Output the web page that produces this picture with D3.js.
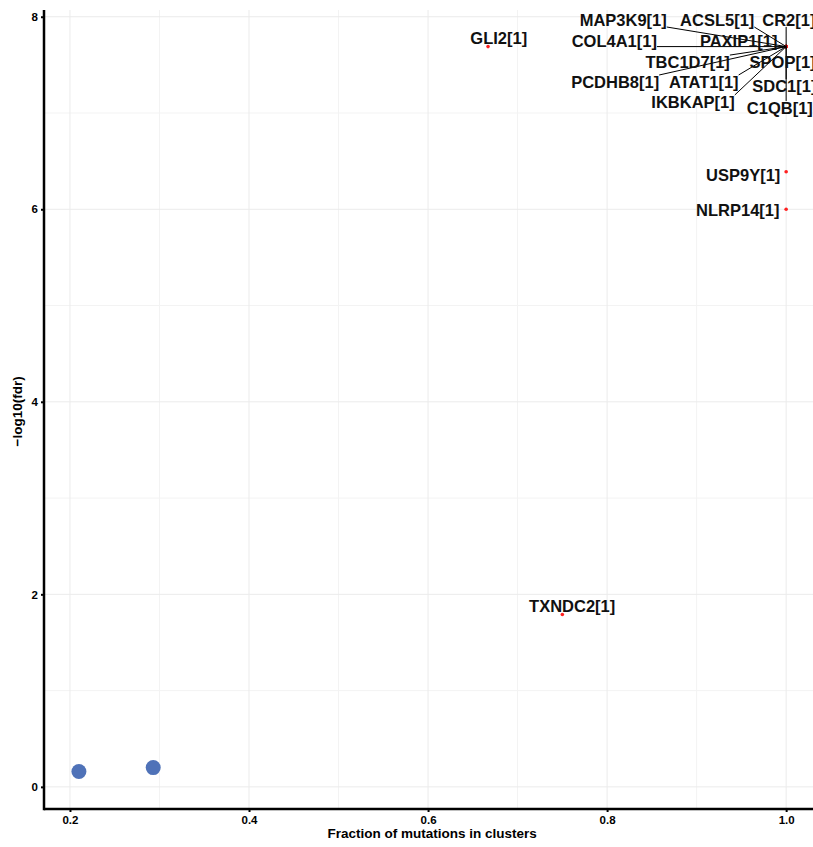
<!DOCTYPE html>
<meta charset="utf-8">
<style>
body { margin: 0; background: #fff; }
text { font-family: "Liberation Sans", Arial, sans-serif; font-weight: bold; }
.grid line { stroke: #ebebeb; stroke-width: 1px; }
.grid .minor { stroke: #f3f3f3; }
.axis .domain { display: none; }
.axis line { stroke: #000; stroke-width: 2px; }
.axis text { font-size: 11.5px; fill: #000; }
</style>
<body>
<script src="https://cdn.jsdelivr.net/npm/d3@7"></script>
<script>

// gene names, fraction of mutations in clusters, -log10(fdr)
var genes = ["GLI2[1]", "TXNDC2[1]", "USP9Y[1]", "NLRP14[1]",
  "MAP3K9[1]", "ACSL5[1]", "CR2[1]", "COL4A1[1]", "PAXIP1[1]", "TBC1D7[1]",
  "SPOP[1]", "PCDHB8[1]", "ATAT1[1]", "SDC1[1]", "IKBKAP[1]", "C1QB[1]"];
var fraction = [0.667, 0.75, 1.0, 1.0,
  1.0, 1.0, 1.0, 1.0, 1.0, 1.0, 1.0, 1.0, 1.0, 1.0, 1.0, 1.0];
var logFdr = [7.69, 1.79, 6.39, 6.0,
  7.69, 7.69, 7.69, 7.69, 7.69, 7.69, 7.69, 7.69, 7.69, 7.69, 7.69, 7.69];
// repelled label centres (data units)
var labelX = [0.679, 0.761, 0.952, 0.946,
  0.818, 0.923, 1.003, 0.808, 0.947, 0.890, 0.996, 0.809, 0.908, 0.998, 0.896, 0.993];
var labelY = [7.78, 1.88, 6.356, 5.99,
  7.966, 7.966, 7.966, 7.748, 7.748, 7.529, 7.529, 7.322, 7.322, 7.28, 7.114, 7.052];

// non-significant genes (big blue points)
var otherFraction = [0.21, 0.293];
var otherLogFdr = [0.16, 0.2];

var xTicks = [0.2, 0.4, 0.6, 0.8, 1.0];
var xMinor = [0.3, 0.5, 0.7, 0.9];
var yTicks = [0, 2, 4, 6, 8];
var yMinor = [1, 3, 5, 7];

var margin = {top: 10, right: 0, bottom: 38, left: 44},
    width = 813 - margin.left - margin.right,
    height = 847 - margin.top - margin.bottom;

var x = d3.scaleLinear().domain([0.171, 1.03]).range([0, width]);
var y = d3.scaleLinear().domain([-0.23, 8.07]).range([height, 0]);

var svg = d3.select("body").append("svg")
    .attr("width", 813)
    .attr("height", 847)
  .append("g")
    .attr("transform", "translate(" + margin.left + "," + margin.top + ")");

// grid
var grid = svg.append("g").attr("class", "grid");
grid.selectAll(".vmin").data(xMinor).enter().append("line")
    .attr("class", "minor")
    .attr("x1", d => x(d)).attr("x2", d => x(d)).attr("y1", 0).attr("y2", height);
grid.selectAll(".hmin").data(yMinor).enter().append("line")
    .attr("class", "minor")
    .attr("y1", d => y(d)).attr("y2", d => y(d)).attr("x1", 0).attr("x2", width);
grid.selectAll(".vmaj").data(xTicks).enter().append("line")
    .attr("x1", d => x(d)).attr("x2", d => x(d)).attr("y1", 0).attr("y2", height);
grid.selectAll(".hmaj").data(yTicks).enter().append("line")
    .attr("y1", d => y(d)).attr("y2", d => y(d)).attr("x1", 0).attr("x2", width);

// blue points
svg.selectAll(".other").data(otherFraction).enter().append("circle")
    .attr("cx", d => x(d))
    .attr("cy", (d, i) => y(otherLogFdr[i]))
    .attr("r", 7.5)
    .attr("fill", "#4f72b8");

// red points
svg.selectAll(".sig").data(genes).enter().append("circle")
    .attr("cx", (d, i) => x(fraction[i]))
    .attr("cy", (d, i) => y(logFdr[i]))
    .attr("r", 1.8)
    .attr("fill", "#ff2020");

// labels + segments
var segs = svg.append("g");
var labels = svg.append("g");
genes.forEach(function(g, i) {
  var t = labels.append("text")
      .attr("x", x(labelX[i]))
      .attr("y", y(labelY[i]))
      .attr("text-anchor", "middle")
      .attr("dominant-baseline", "central")
      .style("font-size", "16.5px")
      .attr("fill", "#111")
      .text(g);
  var b = t.node().getBBox();
  var px = x(fraction[i]), py = y(logFdr[i]);
  var nx = Math.max(b.x, Math.min(px, b.x + b.width));
  var ny = Math.max(b.y + 2, Math.min(py, b.y + b.height - 2));
  var dist = Math.hypot(px - nx, py - ny);
  if (dist > 12) {
    segs.append("line")
        .attr("x1", nx).attr("y1", ny)
        .attr("x2", px).attr("y2", py)
        .attr("stroke", "#000")
        .attr("stroke-width", 1);
  }
});

// axes
svg.append("g")
    .attr("class", "axis")
    .attr("transform", "translate(0," + height + ")")
    .call(d3.axisBottom(x).tickValues(xTicks).tickFormat(d3.format(".1f")).tickSize(3).tickPadding(4));
svg.append("g")
    .attr("class", "axis")
    .call(d3.axisLeft(y).tickValues(yTicks).tickFormat(d3.format("d")).tickSize(3).tickPadding(3));

svg.append("line")
    .attr("x1", 0).attr("x2", width)
    .attr("y1", height).attr("y2", height)
    .attr("stroke", "#000").attr("stroke-width", 2.5);
svg.append("line")
    .attr("x1", 0).attr("x2", 0)
    .attr("y1", 0).attr("y2", height + 1.25)
    .attr("stroke", "#000").attr("stroke-width", 2.5);

// axis titles
svg.append("text")
    .attr("x", x(0.6) + 4)
    .attr("y", height + 29)
    .attr("text-anchor", "middle")
    .style("font-size", "13.5px")
    .text("Fraction of mutations in clusters");
svg.append("text")
    .attr("transform", "translate(" + (-22) + "," + y(3.9) + ") rotate(-90)")
    .attr("text-anchor", "middle")
    .style("font-size", "13.5px")
    .text("\u2212log10(fdr)");

</script>
</body>
